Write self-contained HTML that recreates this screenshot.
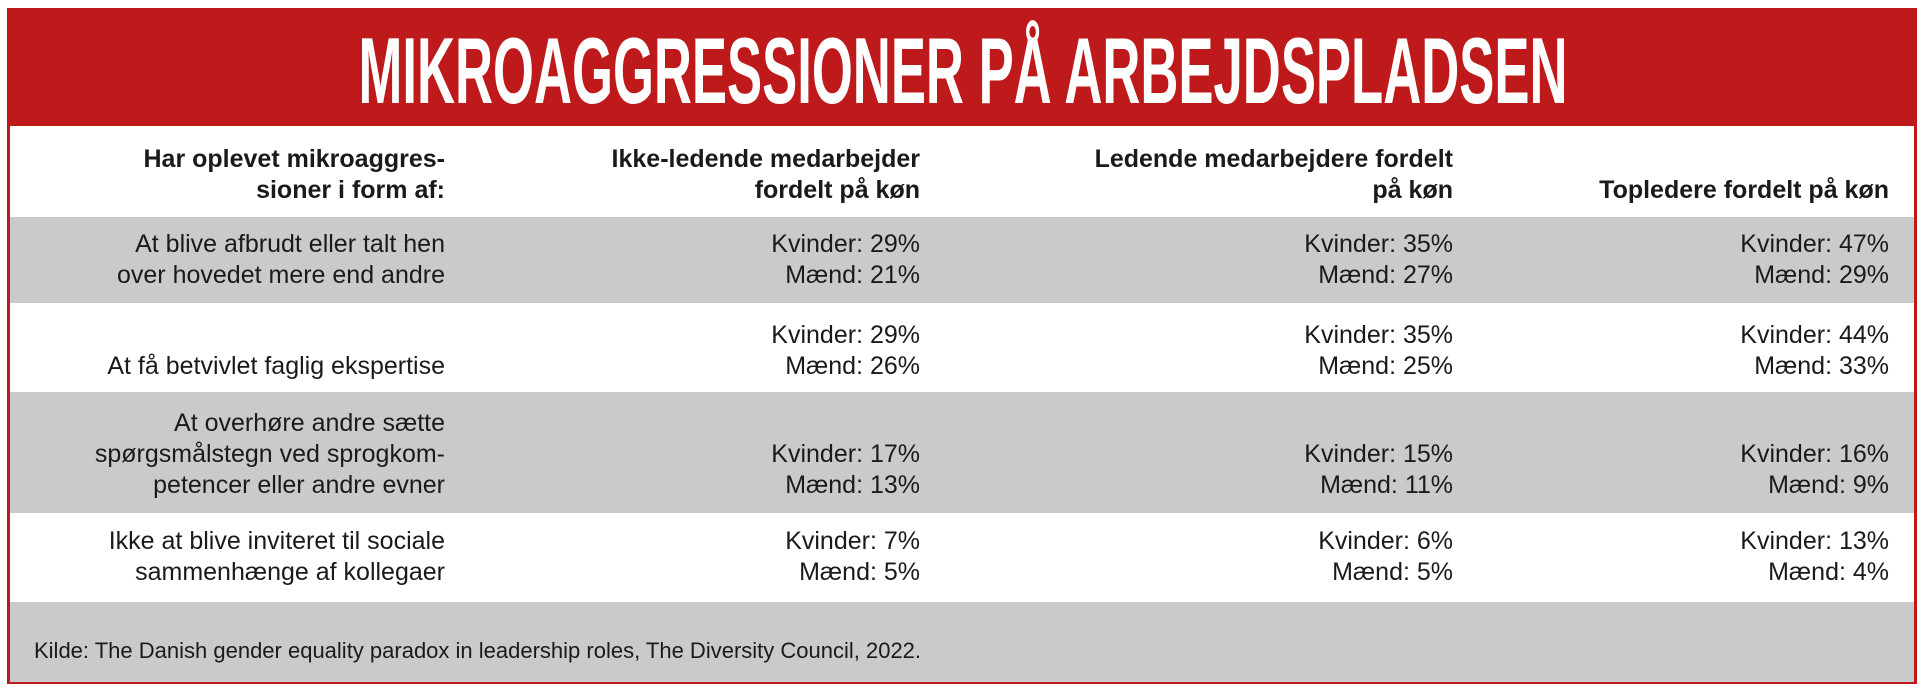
<!DOCTYPE html>
<html><head><meta charset="utf-8"><style>
html,body{margin:0;padding:0;background:#fff;}
body{width:1926px;height:694px;position:relative;overflow:hidden;font-family:"Liberation Sans",sans-serif;color:#1a1a1a;}
.frame{position:absolute;left:7px;top:8px;width:1904px;height:673px;border:3px solid #be1a1b;border-top:none;}
.head{position:absolute;left:7px;top:8px;width:1910px;height:118px;background:#be1a1b;overflow:hidden;}
.title{position:absolute;left:956px;top:15px;color:#fff;font-weight:bold;font-size:94px;line-height:96px;white-space:nowrap;transform-origin:0 0;transform:scaleX(0.56) translateX(-50%);}
.band{position:absolute;left:10px;width:1904px;background:#c9cacc;}
.t{position:absolute;text-align:right;font-size:25px;line-height:31px;white-space:nowrap;}
.b{font-weight:bold;}
.c1{right:1481px}.c2{right:1006px}.c3{right:473px}.c4{right:37px}
.foot{position:absolute;left:34px;top:638px;font-size:22px;white-space:nowrap;}
</style></head><body>
<div class="head"><div class="title">MIKROAGGRESSIONER PÅ ARBEJDSPLADSEN</div></div>
<div class="frame"></div>
<div class="band" style="top:217px;height:86px"></div>
<div class="band" style="top:392px;height:121px"></div>
<div class="band" style="top:602px;height:80px"></div>

<div class="t b c1" style="top:144px">Har oplevet mikroaggres-<br>sioner i form af:</div>
<div class="t b c2" style="top:144px">Ikke-ledende medarbejder<br>fordelt på køn</div>
<div class="t b c3" style="top:144px">Ledende medarbejdere fordelt<br>på køn</div>
<div class="t b c4" style="top:175px">Topledere fordelt på køn</div>

<div class="t c1" style="top:229px">At blive afbrudt eller talt hen<br>over hovedet mere end andre</div>
<div class="t c2" style="top:229px">Kvinder: 29%<br>Mænd: 21%</div>
<div class="t c3" style="top:229px">Kvinder: 35%<br>Mænd: 27%</div>
<div class="t c4" style="top:229px">Kvinder: 47%<br>Mænd: 29%</div>

<div class="t c1" style="top:351px">At få betvivlet faglig ekspertise</div>
<div class="t c2" style="top:320px">Kvinder: 29%<br>Mænd: 26%</div>
<div class="t c3" style="top:320px">Kvinder: 35%<br>Mænd: 25%</div>
<div class="t c4" style="top:320px">Kvinder: 44%<br>Mænd: 33%</div>

<div class="t c1" style="top:408px">At overhøre andre sætte<br>spørgsmålstegn ved sprogkom-<br>petencer eller andre evner</div>
<div class="t c2" style="top:439px">Kvinder: 17%<br>Mænd: 13%</div>
<div class="t c3" style="top:439px">Kvinder: 15%<br>Mænd: 11%</div>
<div class="t c4" style="top:439px">Kvinder: 16%<br>Mænd: 9%</div>

<div class="t c1" style="top:526px">Ikke at blive inviteret til sociale<br>sammenhænge af kollegaer</div>
<div class="t c2" style="top:526px">Kvinder: 7%<br>Mænd: 5%</div>
<div class="t c3" style="top:526px">Kvinder: 6%<br>Mænd: 5%</div>
<div class="t c4" style="top:526px">Kvinder: 13%<br>Mænd: 4%</div>

<div class="foot">Kilde: The Danish gender equality paradox in leadership roles, The Diversity Council, 2022.</div>
</body></html>
